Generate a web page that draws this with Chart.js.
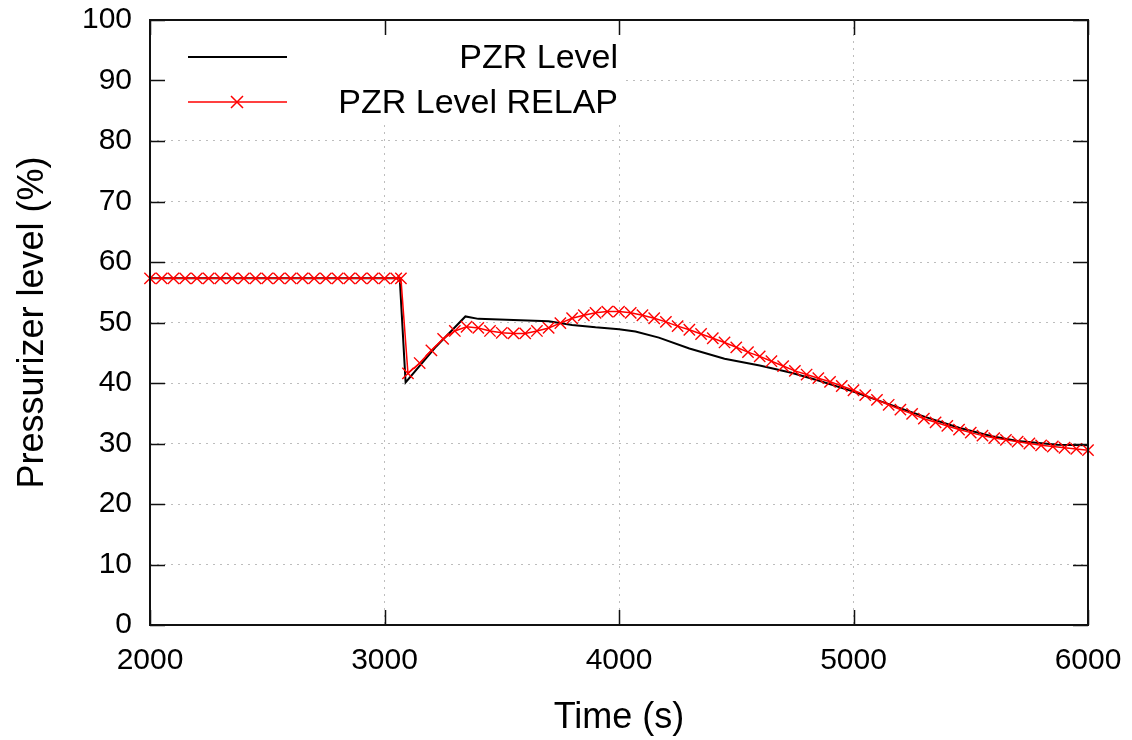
<!DOCTYPE html>
<html>
<head>
<meta charset="utf-8">
<script src="https://cdn.jsdelivr.net/npm/chart.js@4.4.0/dist/chart.umd.min.js"></script>
<style>
  html, body { margin: 0; padding: 0; background: #fff; }
</style>
</head>
<body>
<canvas id="pzrChart" width="1132" height="740"></canvas>
<script>

    // plant computer signal
    var pzrTime  = [2000, 3065, 3090, 3215, 3345, 3400, 3550, 3700, 3800, 3900, 4000, 4070, 4170,
                    4300, 4450, 4600, 4735, 4850, 4990, 5150, 5305, 5450, 5590, 5700, 5870, 6000];
    var pzrLevel = [57.3, 57.3, 40.1, 45.8, 51.0, 50.6, 50.4, 50.2, 49.6, 49.2, 48.9, 48.5, 47.5,
                    45.7, 44.0, 42.9, 41.7, 40.4, 38.7, 36.5, 34.4, 32.6, 31.2, 30.4, 29.8, 29.7];

    // RELAP5 run, output every 50 s
    var relapTime = [2000, 2050, 2100, 2150, 2200, 2250, 2300, 2350, 2400, 2450, 2500, 2550,
                     2600, 2650, 2700, 2750, 2800, 2850, 2900, 2950, 3000, 3050, 3070, 3100,
                     3150, 3200, 3250, 3300, 3350, 3400, 3450, 3500, 3550, 3600, 3650, 3700,
                     3750, 3800, 3850, 3900, 3950, 4000, 4050, 4100, 4150, 4200, 4250, 4300,
                     4350, 4400, 4450, 4500, 4550, 4600, 4650, 4700, 4750, 4800, 4850, 4900,
                     4950, 5000, 5050, 5100, 5150, 5200, 5250, 5300, 5350, 5400, 5450, 5500,
                     5550, 5600, 5650, 5700, 5750, 5800, 5850, 5900, 5950, 6000];
    var relapLevel = [57.3, 57.3, 57.3, 57.3, 57.3, 57.3, 57.3, 57.3, 57.3, 57.3, 57.3, 57.3,
                      57.3, 57.3, 57.3, 57.3, 57.3, 57.3, 57.3, 57.3, 57.3, 57.3, 57.3, 41.6,
                      43.3, 45.4, 47.3, 48.6, 49.3, 49.1, 48.6, 48.3, 48.2, 48.2, 48.6, 49.1,
                      49.9, 50.7, 51.2, 51.6, 51.8, 51.8, 51.6, 51.2, 50.7, 50.1, 49.4, 48.8,
                      48.1, 47.4, 46.7, 45.9, 45.1, 44.4, 43.6, 42.8, 42.0, 41.4, 40.8, 40.2,
                      39.5, 38.8, 38.0, 37.2, 36.4, 35.6, 34.9, 34.1, 33.5, 32.9, 32.3, 31.8,
                      31.3, 30.9, 30.6, 30.3, 30.0, 29.7, 29.5, 29.3, 29.1, 28.9];

    var xTicks = [2000, 3000, 4000, 5000, 6000];
    var yTicks = [0, 10, 20, 30, 40, 50, 60, 70, 80, 90, 100];

    function toPoints(xs, ys) {
      var pts = [];
      for (var i = 0; i < xs.length; i++) pts.push({x: xs[i], y: ys[i]});
      return pts;
    }

    var FONT = "'Liberation Sans', Arial, sans-serif";

    // white key box, top left inside the frame
    var keyBox = {
      id: 'keyBox',
      beforeDatasetsDraw: function(chart) {
        var ctx = chart.ctx, a = chart.chartArea;
        ctx.save();
        ctx.fillStyle = '#fff';
        ctx.fillRect(a.left + 1, a.top + 1, 625 - a.left, 122 - a.top);
        ctx.restore();
      },
      afterDatasetsDraw: function(chart) {
        var ctx = chart.ctx;
        var sets = chart.data.datasets;
        var rows = [57, 102];
        ctx.save();
        ctx.font = '34px ' + FONT;
        ctx.textAlign = 'right';
        ctx.textBaseline = 'middle';
        for (var i = 0; i < sets.length; i++) {
          var y = rows[i];
          ctx.strokeStyle = sets[i].borderColor;
          ctx.lineWidth = sets[i].borderWidth;
          ctx.beginPath();
          ctx.moveTo(188, y);
          ctx.lineTo(287, y);
          ctx.stroke();
          if (sets[i].pointRadius > 0) {
            var r = 6;
            ctx.beginPath();
            ctx.moveTo(237 - r, y - r); ctx.lineTo(237 + r, y + r);
            ctx.moveTo(237 - r, y + r); ctx.lineTo(237 + r, y - r);
            ctx.stroke();
          }
          ctx.fillStyle = '#000';
          ctx.fillText(sets[i].label, 618, y + 2);
        }
        ctx.restore();
      }
    };

    // inward ticks on all four sides and the frame
    var frameTicks = {
      id: 'frameTicks',
      afterDraw: function(chart) {
        var ctx = chart.ctx, a = chart.chartArea;
        var xs = chart.scales.x, ys = chart.scales.y;
        var len = 15;
        ctx.save();
        ctx.strokeStyle = '#111';
        ctx.lineWidth = 1.5;
        ctx.beginPath();
        xTicks.forEach(function(v) {
          var px = Math.round(xs.getPixelForValue(v)) + 0.5;
          ctx.moveTo(px, a.bottom); ctx.lineTo(px, a.bottom - len);
          ctx.moveTo(px, a.top); ctx.lineTo(px, a.top + len);
        });
        yTicks.forEach(function(v) {
          var py = Math.round(ys.getPixelForValue(v)) + 0.5;
          ctx.moveTo(a.left, py); ctx.lineTo(a.left + len, py);
          ctx.moveTo(a.right, py); ctx.lineTo(a.right - len, py);
        });
        ctx.stroke();
        ctx.lineWidth = 2;
        ctx.strokeRect(a.left, a.top, a.right - a.left, a.bottom - a.top);
        ctx.restore();
      }
    };

    var data1 = {
      datasets: [{
        label: 'PZR Level',
        data: toPoints(pzrTime, pzrLevel),
        borderColor: '#000',
        backgroundColor: '#000',
        borderWidth: 2,
        pointRadius: 0,
        tension: 0,
        order: 1
      }, {
        label: 'PZR Level RELAP',
        data: toPoints(relapTime, relapLevel),
        borderColor: '#ff0000',
        backgroundColor: '#ff0000',
        borderWidth: 1.5,
        pointStyle: 'crossRot',
        pointRadius: 8,
        pointBorderWidth: 1.4,
        tension: 0,
        order: 0
      }]
    };

    function plainLabel(v) { return String(v); }

    var config1 = {
      type: 'line',
      data: data1,
      plugins: [keyBox, frameTicks],
      options: {
        responsive: false,
        animation: false,
        clip: false,
        layout: { padding: { top: 20, right: 44, left: 0, bottom: 0 } },
        plugins: {
          legend: { display: false },
          tooltip: { enabled: false }
        },
        scales: {
          x: {
            type: 'linear',
            min: 2000,
            max: 6000,
            afterFit: function(s) { s.height = 115; s.paddingLeft = 0; s.paddingRight = 0; },
            afterBuildTicks: function(s) { s.ticks = xTicks.map(function(v) { return {value: v}; }); },
            ticks: { color: '#000', padding: 18, maxRotation: 0, callback: plainLabel,
                     font: { family: FONT, size: 30 } },
            grid: { color: '#bdbdbd', drawTicks: false, lineWidth: 1 },
            border: { display: false, dash: [2, 5] },
            title: { display: true, text: 'Time (s)', color: '#000',
                     font: { family: FONT, size: 36 }, padding: { top: 0, bottom: 0 } }
          },
          y: {
            min: 0,
            max: 100,
            afterFit: function(s) { s.width = 150; s.paddingTop = 0; s.paddingBottom = 0; },
            afterBuildTicks: function(s) { s.ticks = yTicks.map(function(v) { return {value: v}; }); },
            ticks: { color: '#000', padding: 18, callback: plainLabel,
                     font: { family: FONT, size: 30 } },
            grid: { color: '#bdbdbd', drawTicks: false, lineWidth: 1 },
            border: { display: false, dash: [2, 5] },
            title: { display: true, text: 'Pressurizer level (%)', color: '#000',
                     font: { family: FONT, size: 36 }, padding: { top: 11, bottom: 0 } }
          }
        }
      }
    };

    var myChart1 = new Chart(
      document.getElementById('pzrChart'),
      config1
    );
</script>
</body>
</html>
